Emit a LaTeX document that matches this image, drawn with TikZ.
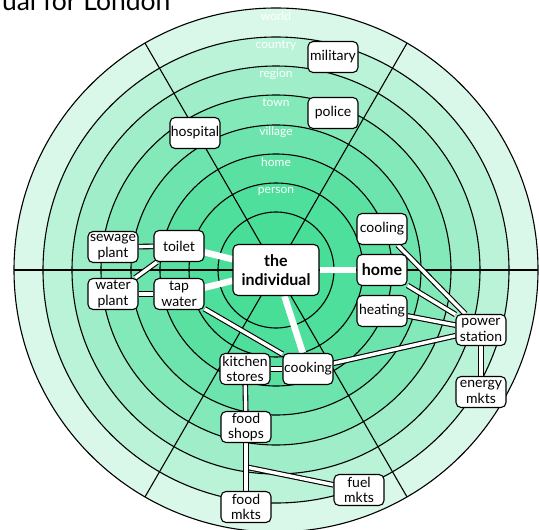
\documentclass[tikz,border=0pt]{standalone}
\usepackage{fontspec}
\setmainfont{Lato}
\usetikzlibrary{calc}
\pgfdeclarelayer{bg}
\pgfdeclarelayer{edges}
\pgfsetlayers{bg,edges,main}
\definecolor{ringbase}{RGB}{72,222,152}
\tikzset{
  box/.style={draw=black, line width=1.1pt, fill=white, rounded corners=5pt,
    minimum width=50pt, minimum height=31pt, inner sep=0pt, align=center,
    font=\fontsize{14}{15.5}\selectfont},
  bigbox/.style={box, minimum width=86pt, minimum height=51pt,
    font=\fontsize{16}{19}\selectfont\bfseries},
  boldbox/.style={box, font=\fontsize{16}{18}\selectfont\bfseries},
  ringlabel/.style={text=white, font=\fontsize{12}{12}\selectfont, inner sep=0pt},
  ringline/.style={draw=black, line width=1.1pt},
  wideline/.style={draw=white, line width=6.5pt},
  dblline/.style={draw=black, line width=1.1pt, double=white, double distance=3.4pt},
}
\begin{document}
\begin{tikzpicture}[x=1pt,y=-1pt]
\useasboundingbox (0,0) rectangle (539,530);
\coordinate (c) at (276,270);
\begin{pgfonlayer}{bg}
  \foreach \r/\p in {262/20, 233/37, 204/52, 175/68, 145/80, 116/90, 87/96, 58/100}
    \fill[ringbase!\p!white] (c) circle[radius=\r pt];
  \foreach \r in {262,233,204,175,145,116,87,58}
    \draw[ringline] (c) circle[radius=\r pt];
  \foreach \a in {0,60,...,300}
    \draw[ringline] (c) -- ++(\a:262pt);
  \foreach \t/\yy in {world/16, country/46, region/74, town/103, village/132, home/162, person/191}
    \node[ringlabel] (lab-\t) at (276,\yy) {\t};
\end{pgfonlayer}

\node[anchor=base west, inner sep=0pt, font=\fontsize{26.5}{26.5}\selectfont] (title) at (-13,10) {dual for London};

\node[box] (mil) at (333,57) {military};
\node[box] (pol) at (333,113) {police};
\node[box] (hos) at (195,133) {hospital};
\node[box] (sew) at (113,247) {sewage\\plant};
\node[box] (toi) at (179,246) {toilet};
\node[box] (wat) at (113,294) {water\\plant};
\node[box] (tap) at (179,294) {tap\\water};
\node[bigbox] (ind) at (276,270) {the\\individual};
\node[box] (coo) at (382,229) {cooling};
\node[boldbox] (hom) at (382,270) {home};
\node[box] (hea) at (382,311) {heating};
\node[box] (pow) at (481,330) {power\\station};
\node[box] (ene) at (481,392) {energy\\mkts};
\node[box] (cook) at (308,369) {cooking};
\node[box] (kit) at (245,369) {kitchen\\stores};
\node[box] (shop) at (246,427) {food\\shops};
\node[box] (fmk) at (246,507) {food\\mkts};
\node[box] (fuel) at (359,490) {fuel\\mkts};
\coordinate (mid) at ($(shop)!0.5!(fmk)$);

\begin{pgfonlayer}{edges}
  \draw[wideline] (ind) -- (toi);
  \draw[wideline] (ind) -- (tap);
  \draw[wideline] (ind) -- (hom);
  \draw[wideline] (ind) -- (cook);
  \draw[dblline] (sew) -- (toi);
  \draw[dblline] (wat) -- (tap);
  \draw[dblline] (wat) -- (toi);
  \draw[dblline] (tap) -- (cook);
  \draw[dblline] (kit) -- (cook);
  \draw[dblline] (kit) -- (shop);
  \draw[dblline] (mid) -- (fuel);
  \draw[dblline] (shop) -- (fmk);
  \draw[dblline] (coo) -- (pow);
  \draw[dblline] (hom) -- (pow);
  \draw[dblline] (hea) -- (pow);
  \draw[dblline] (cook) -- (pow);
  \draw[dblline] (pow) -- (ene);
\end{pgfonlayer}
\end{tikzpicture}
\end{document}
